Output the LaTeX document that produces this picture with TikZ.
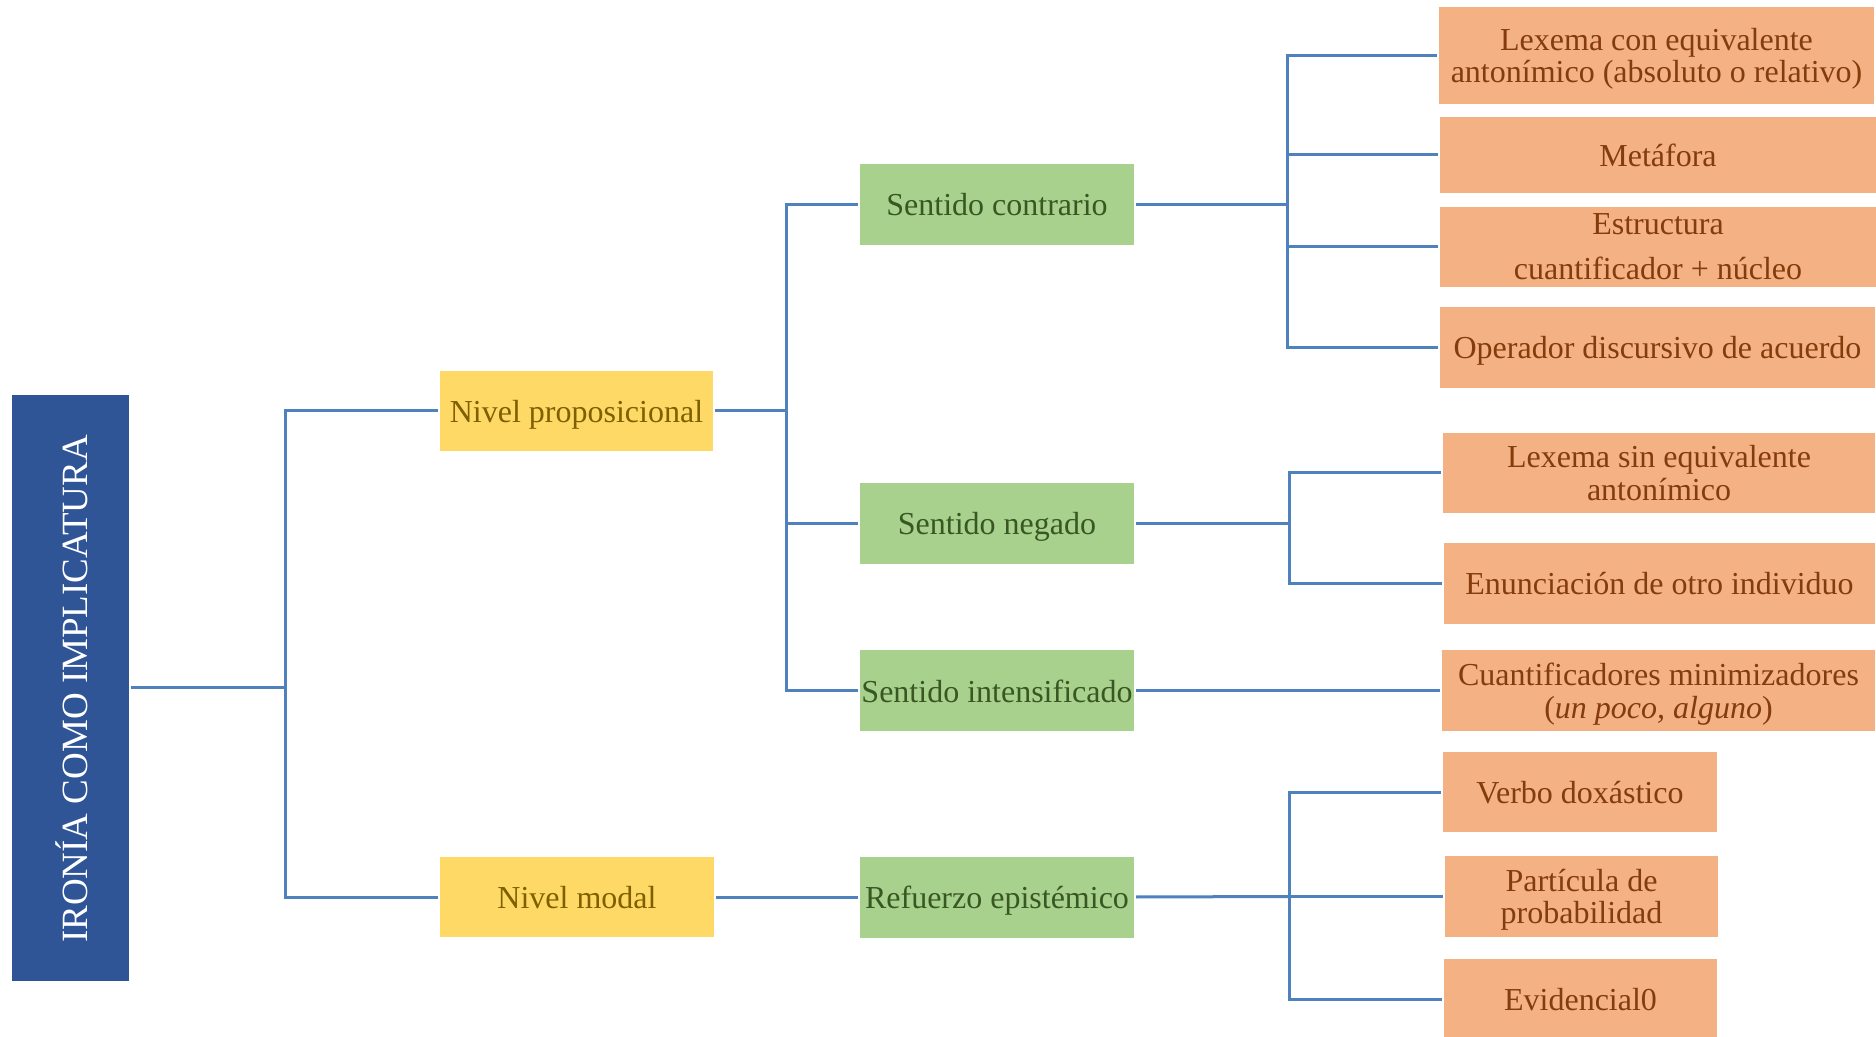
\documentclass[tikz,border=0pt]{standalone}
\usepackage{fontspec}
\setmainfont{Liberation Serif}
\definecolor{rootblue}{RGB}{47,85,151}
\definecolor{lvlyellow}{RGB}{255,217,102}
\definecolor{lvltext}{RGB}{127,96,0}
\definecolor{sensegreen}{RGB}{169,209,142}
\definecolor{sensetext}{RGB}{56,87,35}
\definecolor{markorange}{RGB}{244,177,131}
\definecolor{marktext}{RGB}{132,60,12}
\definecolor{linkblue}{RGB}{79,129,189}
\tikzset{
  box/.style={rectangle, inner sep=0pt, outer sep=1pt, align=center,
    text depth=0pt, font=\fontsize{16}{16.3}\selectfont},
  rootbox/.style={box, fill=rootblue, text=white},
  levelbox/.style={box, fill=lvlyellow, text=lvltext},
  sensebox/.style={box, fill=sensegreen, text=sensetext},
  markbox/.style={box, fill=markorange, text=marktext},
  link/.style={draw=linkblue, line width=1.5pt}
}
\begin{document}
\begin{tikzpicture}[x=0.5pt,y=-0.5pt]
\useasboundingbox (0,0) rectangle (1876,1037);

% root
\node[rootbox, minimum width=58.5pt, minimum height=293pt] (root) at (70.5,688) {};
\node[text=white, rotate=90, font=\fontsize{18.5}{20}\selectfont] (roottxt) at (72,689) {IRONÍA COMO IMPLICATURA};

% levels
\node[levelbox, minimum width=136.5pt, minimum height=40pt] (np) at (576.5,411) {Nivel proposicional};
\node[levelbox, minimum width=137pt, minimum height=40pt] (nm) at (577,897) {Nivel modal};

% senses
\node[sensebox, minimum width=137pt, minimum height=40.5pt] (sc) at (997,204.5) {Sentido contrario};
\node[sensebox, minimum width=137pt, minimum height=40.5pt] (sn) at (997,523.5) {Sentido negado};
\node[sensebox, minimum width=137pt, minimum height=40.5pt] (si) at (997,691) {Sentido intensificado};
\node[sensebox, minimum width=137pt, minimum height=40.5pt] (re) at (997,897) {Refuerzo epistémico};

% markers
\node[markbox, minimum width=217.5pt, minimum height=48.5pt] (o1) at (1656.5,55.5) {Lexema con equivalente\\antonímico (absoluto o relativo)};
\node[markbox, minimum width=218pt, minimum height=38pt] (o2) at (1658,155) {Metáfora};
\node[markbox, minimum width=218pt, minimum height=40pt, font=\fontsize{16}{22.5}\selectfont] (o3) at (1658,247) {Estructura\\cuantificador + núcleo};
\node[markbox, minimum width=217.5pt, minimum height=40.5pt] (o4) at (1657.5,347.5) {Operador discursivo de acuerdo};
\node[markbox, minimum width=216pt, minimum height=40pt] (o5) at (1659,473) {Lexema sin equivalente\\antonímico};
\node[markbox, minimum width=215.5pt, minimum height=40.5pt] (o6) at (1659.5,583.5) {Enunciación de otro individuo};
\node[markbox, minimum width=216.5pt, minimum height=40.5pt] (o7) at (1658.5,691) {Cuantificadores minimizadores\\(\textit{un poco, alguno})};
\node[markbox, minimum width=137pt, minimum height=40pt] (o8) at (1580,792) {Verbo doxástico};
\node[markbox, minimum width=136.5pt, minimum height=40.5pt] (o9) at (1581.5,896.5) {Partícula de\\probabilidad};
\node[markbox, minimum width=136.5pt, minimum height=40pt] (o10) at (1580.5,999) {Evidencial0};

% junction points
\coordinate (j1) at (285,688);
\coordinate (j2) at (786,411);
\coordinate (j3) at (1287,204.5);
\coordinate (j4) at (1289,523.5);
\coordinate (j5) at (1289,896.5);

% connectors
\draw[link] (root.east) -- (j1);
\draw[link] (np.west) -| (j1);
\draw[link] (nm.west) -| (j1);

\draw[link] (np.east) -- (j2);
\draw[link] (sc.west) -| (j2);
\draw[link] (sn.west) -| (j2);
\draw[link] (si.west) -| (j2);

\draw[link] (nm.east) -- (re.west);

\draw[link] (sc.east) -- (j3);
\draw[link] (o1.west) -| (j3);
\draw[link] (o2.west) -| (j3);
\draw[link] (o3.west) -| (j3);
\draw[link] (o4.west) -| (j3);

\draw[link] (sn.east) -- (j4);
\draw[link] (o5.west) -| (j4);
\draw[link] (o6.west) -| (j4);

\draw[link] (si.east) -- (o7.west);

\draw[link] (re.east) -- (j5);
\draw[link] (o8.west) -| (j5);
\draw[link] (o9.west) -| (j5);
\draw[link] (o10.west) -| (j5);
\end{tikzpicture}
\end{document}
